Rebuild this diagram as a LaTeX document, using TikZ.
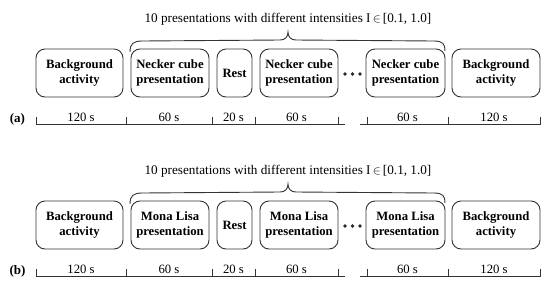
\documentclass[tikz,border=0pt]{standalone}
\usepackage{fontspec}
\setmainfont{Liberation Serif}
\begin{document}
\begin{tikzpicture}[x=1pt,y=-1pt,
  lc/.style={draw=black!80, line width=0.9pt},
  box/.style={lc, rounded corners=9pt, minimum height=48pt, inner sep=0pt,
    align=center, font=\fontsize{12.7}{15.5}\selectfont\bfseries},
  lab/.style={anchor=base, inner sep=0pt, font=\fontsize{12.7}{15}\selectfont},
  ttl/.style={anchor=base, inner sep=0pt, font=\fontsize{13.2}{15}\selectfont},
  panel/.style={inner sep=0pt, font=\fontsize{13}{15}\selectfont\bfseries}]
\useasboundingbox (0,0) rectangle (550,285);
\foreach \p/\dy/\name in {a/0/Necker cube, b/152/Mona Lisa}{
  \begin{scope}[yshift=-\dy pt]
  % title and brace
  \node[ttl] (title\p) at (288,22) {10 presentations with different intensities I\,$\in$\,[0.1, 1.0]};
  \draw[lc] (130,52) .. controls (130,44) and (133,41) .. (142,41) -- (280,40)
     .. controls (285,40) and (288,37) .. (288,32)
     .. controls (288,37) and (291,40) .. (296,40) -- (434,41)
     .. controls (443,41) and (445,44) .. (445,51);
  % boxes
  \node[box, minimum width=87pt] (bgl\p) at (79.5,73) {Background\\activity};
  \node[box, minimum width=78pt] (pa\p) at (170,73) {\name\\presentation};
  \node[box, minimum width=35pt] (rest\p) at (234.5,73) {Rest};
  \node[box, minimum width=78pt] (pb\p) at (299,73) {\name\\presentation};
  \node[box, minimum width=79pt] (pc\p) at (405.5,73) {\name\\presentation};
  \node[box, minimum width=88pt] (bgr\p) at (496,73) {Background\\activity};
  \foreach \xx in {345,352.5,360} \fill[black!85] (\xx,74) circle (1.8pt);
  % timeline
  \draw[lc] (36,117) -- (36,124) -- (345,124);
  \foreach \xx in {126,212,255,338} \draw[lc] (\xx,117) -- (\xx,124);
  \draw[lc] (360,124) -- (540,124) -- (540,117);
  \foreach \xx in {367,448} \draw[lc] (\xx,117) -- (\xx,124);
  \node[lab] at (81,121) {120 s};
  \node[lab] at (169,121) {60 s};
  \node[lab] at (233.5,121) {20 s};
  \node[lab] at (296.5,121) {60 s};
  \node[lab] at (407.5,121) {60 s};
  \node[lab] at (494,121) {120 s};
  \node[panel] (lbl\p) at (17.5,119) {(\p)};
  \end{scope}
}
\end{tikzpicture}
\end{document}
